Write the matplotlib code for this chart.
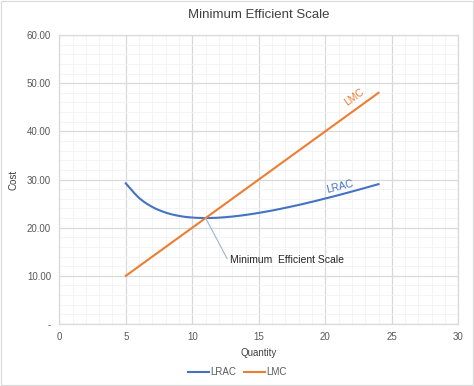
import numpy as np
import matplotlib.pyplot as plt
from matplotlib.ticker import MultipleLocator, FixedLocator
from matplotlib.patches import Rectangle

plt.rcParams['font.family'] = ['Liberation Sans', 'DejaVu Sans']

quantity = [5, 6, 7, 8, 9, 10, 11, 12, 13, 14, 15, 16, 17, 18, 19, 20, 21, 22, 23, 24]
lrac = [29.20, 26.17, 24.29, 23.13, 22.44, 22.10, 22.00, 22.08, 22.31, 22.64,
        23.07, 23.56, 24.12, 24.72, 25.37, 26.05, 26.76, 27.50, 28.26, 29.04]
lmc = [10, 12, 14, 16, 18, 20, 22, 24, 26, 28, 30, 32, 34, 36, 38, 40, 42, 44, 46, 48]
y_ticks = [0, 10, 20, 30, 40, 50, 60]
y_labels = ['-', '10.00', '20.00', '30.00', '40.00', '50.00', '60.00']
mes_point = (11, 22)

blue = '#4472C4'
orange = '#ED7D31'


def smooth(x, y, n=12):
    # catmull-rom, like a spreadsheet "smoothed line"
    x = np.asarray(x, float)
    y = np.asarray(y, float)
    px = np.concatenate([[2 * x[0] - x[1]], x, [2 * x[-1] - x[-2]]])
    py = np.concatenate([[2 * y[0] - y[1]], y, [2 * y[-1] - y[-2]]])
    t = np.linspace(0, 1, n, endpoint=False)
    xs, ys = [], []
    for i in range(1, len(px) - 2):
        for p, out in ((px, xs), (py, ys)):
            p0, p1, p2, p3 = p[i - 1], p[i], p[i + 1], p[i + 2]
            out.extend(0.5 * (2 * p1 + (-p0 + p2) * t + (2 * p0 - 5 * p1 + 4 * p2 - p3) * t ** 2
                              + (-p0 + 3 * p1 - 3 * p2 + p3) * t ** 3))
    xs.append(x[-1])
    ys.append(y[-1])
    return xs, ys


fig = plt.figure(figsize=(4.74, 3.86), dpi=100)
ax = fig.add_axes([0.1251, 0.1606, 0.8418, 0.7487])

sx, sy = smooth(quantity, lrac)
ax.plot(sx, sy, color=blue, lw=1.5, label='LRAC', zorder=3)
ax.plot(quantity, lmc, color=orange, lw=1.5, label='LMC', zorder=3)

ax.set_xlim(0, 30)
ax.set_ylim(0, 60)
ax.xaxis.set_major_locator(MultipleLocator(5))
ax.xaxis.set_minor_locator(MultipleLocator(1))
ax.yaxis.set_major_locator(FixedLocator(y_ticks))
ax.yaxis.set_minor_locator(MultipleLocator(2))
ax.set_yticklabels(y_labels)
ax.grid(which='major', color='#D9D9D9', lw=0.9)
ax.grid(which='minor', color='#F3F3F3', lw=0.6)
ax.set_axisbelow(True)
ax.tick_params(which='both', length=0, labelsize=7, colors='#595959', pad=6)
for s in ax.spines.values():
    s.set_color('#D9D9D9')
    s.set_linewidth(0.9)

ax.set_title('Minimum Efficient Scale', fontsize=9.5, color='#404040', pad=12)
ax.set_xlabel('Quantity', fontsize=7, color='#404040', labelpad=4)
ax.set_ylabel('Cost', fontsize=7, color='#404040')
ax.yaxis.set_label_coords(-0.101, 0.5)

# curve labels
ax.text(22.2, 47.1, 'LMC', color=orange, fontsize=7.5, rotation=36,
        ha='center', va='center')
ax.text(21.1, 28.4, 'LRAC', color=blue, fontsize=7.5, rotation=14,
        ha='center', va='center')

# annotation
ax.annotate('Minimum  Efficient Scale', xy=mes_point, xytext=(12.83, 13.3),
            fontsize=7.5, color='#262626', va='center', ha='left',
            arrowprops=dict(arrowstyle='-', color='#9DB3D4', lw=0.8,
                            shrinkA=0, shrinkB=0, relpos=(0, 0.1)))

fig.legend(loc='center', bbox_to_anchor=(0.5, 0.036), ncol=2, frameon=False,
           fontsize=7, handlelength=2.2, columnspacing=0.8, handletextpad=0.1,
           labelcolor='#595959')

fig.patches.append(Rectangle((0.002, 0.002), 0.996, 0.996, transform=fig.transFigure,
                             fill=False, edgecolor='#D9D9D9', lw=0.8))

fig.savefig('out.png', dpi=100)
